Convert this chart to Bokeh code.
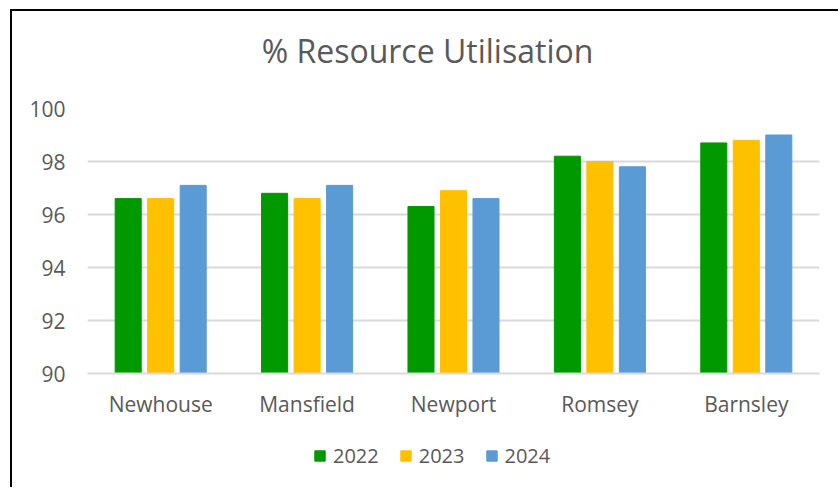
from bokeh.plotting import figure
from bokeh.layouts import column
from bokeh.models import ColumnDataSource, Legend, LegendItem, Label
from bokeh.transform import dodge
from bokeh.embed import file_html
from bokeh.resources import INLINE

title_text = "% Resource Utilisation"
categories = ["Newhouse", "Mansfield", "Newport", "Romsey", "Barnsley"]
years = ["2022", "2023", "2024"]
v2022 = [96.6, 96.8, 96.3, 98.2, 98.7]
v2023 = [96.6, 96.6, 96.9, 98.0, 98.8]
v2024 = [97.1, 97.1, 96.6, 97.8, 99.0]
y_ticks = [90, 92, 94, 96, 98, 100]
colors = ["#009900", "#FFC000", "#5B9BD5"]

src = ColumnDataSource(dict(cat=categories, y2022=v2022, y2023=v2023, y2024=v2024))

FONT = "Open Sans"
TXT = "#595959"
W = 826


def strip(h):
    f = figure(width=W, height=h, x_range=(0, 1), y_range=(0, 1),
               output_backend="svg", toolbar_location=None,
               x_axis_location=None, y_axis_location=None, min_border=0)
    f.grid.visible = False
    f.outline_line_color = None
    f.border_fill_color = "white"
    return f


# title strip
p0 = strip(60)
p0.add_layout(Label(x=340, y=21, x_units="screen", y_units="screen", text=title_text,
                    text_align="center", text_baseline="middle", text_font=FONT,
                    text_font_size="32px", text_color=TXT))

p = figure(x_range=categories, y_range=(90, 100), width=W, height=370,
           output_backend="svg", toolbar_location=None,
           min_border_left=75, min_border_right=19, min_border_top=37, min_border_bottom=68)

offs = [-0.222, 0.0, 0.222]
for col, off, c in zip(["y2022", "y2023", "y2024"], offs, colors):
    p.vbar(x=dodge("cat", off, range=p.x_range), top=col, bottom=90, width=0.178,
           source=src, fill_color=c, line_color=c, line_width=1)

p.outline_line_color = None
p.background_fill_color = "white"
p.border_fill_color = "white"

p.xgrid.grid_line_color = None
p.ygrid.grid_line_color = "#D9D9D9"
p.ygrid.grid_line_width = 2
p.yaxis.ticker = y_ticks

p.yaxis.axis_line_color = None
p.yaxis.major_tick_line_color = None
p.yaxis.minor_tick_line_color = None
p.yaxis.major_tick_out = 0
p.yaxis.major_tick_in = 0
p.yaxis.major_label_text_font = FONT
p.yaxis.major_label_text_font_size = "21px"
p.yaxis.major_label_text_color = TXT
p.yaxis.major_label_standoff = 22

p.xaxis.axis_line_color = "#D9D9D9"
p.xaxis.axis_line_width = 2
p.xaxis.major_tick_line_color = None
p.xaxis.minor_tick_line_color = None
p.xaxis.major_tick_out = 0
p.xaxis.major_tick_in = 0
p.xaxis.major_label_text_font = FONT
p.xaxis.major_label_text_font_size = "21px"
p.xaxis.major_label_text_color = TXT
p.xaxis.major_label_standoff = 16

# legend strip
p2 = strip(46)
leg_r = []
for c in colors:
    leg_r.append(p2.vbar(x=[-10], top=[-10], bottom=[-11], width=0.1,
                         fill_color=c, line_color=c))
legend = Legend(items=[LegendItem(label=y, renderers=[r]) for y, r in zip(years, leg_r)],
                orientation="horizontal", location=(226, 18),
                glyph_width=13, glyph_height=13, label_standoff=7, spacing=20,
                padding=0, margin=0, border_line_color=None, background_fill_alpha=0,
                label_text_font=FONT, label_text_font_size="20px", label_text_color=TXT)
p2.add_layout(legend, "center")

lay = column(p0, p, p2, spacing=0)
lay.styles = {"margin-left": "10px", "margin-top": "9px",
              "border-left": "2px solid black", "border-top": "2px solid black"}

open("out.html", "w").write(file_html(lay, INLINE))
